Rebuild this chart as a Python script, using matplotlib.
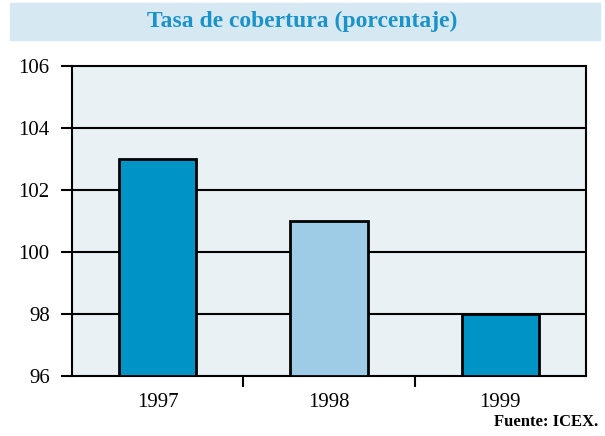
import numpy as np
import matplotlib.pyplot as plt
from matplotlib.patches import Rectangle

years = ['1997', '1998', '1999']
values = [103, 101, 98]
colors = ['#0093c6', '#9ecbe6', '#0093c6']
yticks = [96, 98, 100, 102, 104, 106]

plt.rcParams['font.family'] = ['Liberation Serif', 'DejaVu Serif']

fig = plt.figure(figsize=(6.05, 4.36), dpi=100)

# title band
fig.patches.append(Rectangle((10/605, 1-40/436), 590/605, 37/436,
                             transform=fig.transFigure, color='#d6e8f2', zorder=0))
fig.text(0.5, 1-21/436, 'Tasa de cobertura (porcentaje)', ha='center', va='center',
         color='#1a93c8', fontsize=17, fontweight='bold')

ax = fig.add_axes([72/605, 1-376/436, 514/605, 310/436])
ax.set_facecolor('#eaf1f5')
x = np.arange(len(years))
ax.bar(x, np.array(values) - 96, bottom=96, width=0.45, color=colors,
       edgecolor='black', linewidth=2, zorder=3)
ax.set_xlim(-0.5, 2.5)
ax.set_ylim(96, 106)
ax.set_yticks(yticks)
ax.set_yticklabels([str(v) for v in yticks], fontsize=15)
for v in yticks[1:-1]:
    ax.axhline(v, color='black', lw=1.5, zorder=1)

ax.set_xticks([0.5, 1.5])
ax.set_xticklabels([])
ax.set_xticks(x, minor=True)
ax.set_xticklabels(years, minor=True, fontsize=15)
ax.tick_params(axis='x', which='minor', length=0, pad=12)
ax.tick_params(axis='x', which='major', length=8, width=1.5, direction='out')
ax.tick_params(axis='y', length=8, width=1.5, direction='out', pad=8)
for s in ax.spines.values():
    s.set_linewidth(1.5)

fig.text(598/605, 1-422/436, 'Fuente: ICEX.', ha='right', va='center',
         fontsize=12, fontweight='bold')

fig.savefig('out.png', dpi=100)
